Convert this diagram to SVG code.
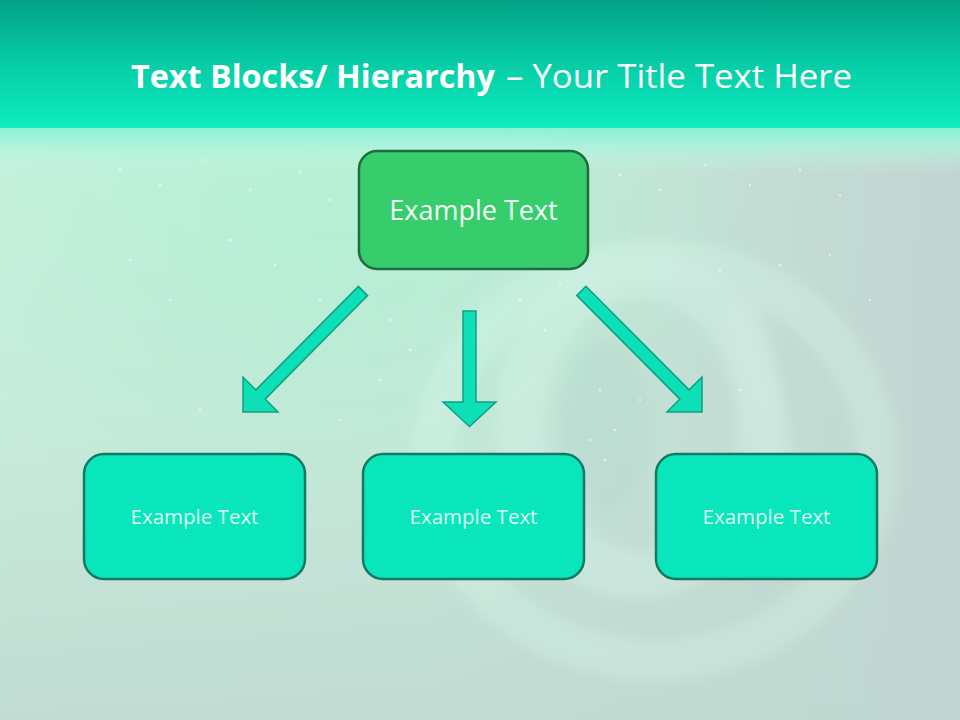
<svg xmlns="http://www.w3.org/2000/svg" width="960" height="720" viewBox="0 0 960 720">
  <defs>
    <linearGradient id="bgH" x1="0" y1="0" x2="1" y2="0">
      <stop offset="0" stop-color="#c9f4df"/>
      <stop offset="0.45" stop-color="#c8efdd"/>
      <stop offset="1" stop-color="#c2d4d1"/>
    </linearGradient>
    <linearGradient id="bgV" x1="0" y1="0" x2="0" y2="1">
      <stop offset="0" stop-color="#c0d6d0" stop-opacity="0"/>
      <stop offset="0.6" stop-color="#c0d6d0" stop-opacity="0.3"/>
      <stop offset="1" stop-color="#c0d6d0" stop-opacity="0.8"/>
    </linearGradient>
    <radialGradient id="glow" cx="0.35" cy="0.3" r="0.45">
      <stop offset="0" stop-color="#aef5d3" stop-opacity="0.8"/>
      <stop offset="1" stop-color="#aef5d3" stop-opacity="0"/>
    </radialGradient>
    <linearGradient id="header" x1="0" y1="0" x2="0" y2="1">
      <stop offset="0" stop-color="#03a386"/>
      <stop offset="0.55" stop-color="#07d0a9"/>
      <stop offset="1" stop-color="#0fecbf"/>
    </linearGradient>
    <linearGradient id="band" x1="0" y1="0" x2="0" y2="1">
      <stop offset="0" stop-color="#86f2d4"/>
      <stop offset="0.4" stop-color="#a9f4dc" stop-opacity="0.8"/>
      <stop offset="1" stop-color="#c6f5e2" stop-opacity="0"/>
    </linearGradient>
    <filter id="soft" x="-10%" y="-10%" width="120%" height="120%">
      <feGaussianBlur stdDeviation="6"/>
    </filter>
    <style>
      .title { font-family: "Open Sans", "Liberation Sans", sans-serif; font-size: 33px; fill: #ffffff; }
      .box-top { fill: #37cd6c; stroke: #1c6c3e; stroke-width: 2.5; }
      .box-bot { fill: #0ae6bc; stroke: #137a62; stroke-width: 2.5; }
      .lbl-top { font-family: "Open Sans", "Liberation Sans", sans-serif; font-size: 27px; fill: #f2fff6; text-anchor: middle; }
      .lbl-bot { font-family: "Open Sans", "Liberation Sans", sans-serif; font-size: 20.5px; fill: #dcfdf3; text-anchor: middle; }
      .arrow { fill: #0de0b6; stroke: #129f80; stroke-width: 1.5; stroke-linejoin: miter; }
      .spark { fill: #ffffff; }
    </style>
  </defs>

  <!-- background -->
  <rect x="0" y="0" width="960" height="720" fill="url(#bgH)"/>
  <rect x="0" y="0" width="960" height="720" fill="url(#glow)"/>
  <rect x="0" y="0" width="960" height="720" fill="url(#bgV)"/>

  <!-- faint @ decoration -->
  <g opacity="0.45" filter="url(#soft)">
    <ellipse cx="655" cy="460" rx="222" ry="200" fill="none" stroke="#dcfbef" stroke-width="42" opacity="0.6"/>
    <ellipse cx="640" cy="425" rx="120" ry="150" fill="none" stroke="#dffcf1" stroke-width="48" opacity="0.6"/>
    <ellipse cx="605" cy="425" rx="45" ry="85" fill="#a6cdc3" opacity="0.45"/>
    <path d="M 740 300 L 800 560" stroke="#dffcf1" stroke-width="40" opacity="0.5" fill="none"/>
  </g>

  <!-- sparkles -->
  <g class="spark" opacity="0.55">
    <circle cx="120" cy="170" r="1.5"/><circle cx="160" cy="185" r="1.2"/><circle cx="205" cy="160" r="1.5"/>
    <circle cx="250" cy="190" r="1.2"/><circle cx="300" cy="172" r="1.5"/><circle cx="330" cy="200" r="1.2"/>
    <circle cx="620" cy="175" r="1.5"/><circle cx="660" cy="190" r="1.2"/><circle cx="705" cy="165" r="1.5"/>
    <circle cx="750" cy="185" r="1.2"/><circle cx="800" cy="170" r="1.5"/><circle cx="840" cy="195" r="1.2"/>
    <circle cx="230" cy="240" r="1.5"/><circle cx="275" cy="265" r="1.2"/><circle cx="320" cy="300" r="1.5"/>
    <circle cx="390" cy="320" r="1.2"/><circle cx="410" cy="350" r="1.5"/><circle cx="300" cy="350" r="1.2"/>
    <circle cx="520" cy="300" r="1.5"/><circle cx="545" cy="330" r="1.2"/><circle cx="600" cy="390" r="1.5"/>
    <circle cx="615" cy="430" r="1.5"/><circle cx="590" cy="440" r="1.2"/><circle cx="605" cy="460" r="1.5"/>
    <circle cx="640" cy="400" r="1.2"/><circle cx="560" cy="285" r="1.2"/><circle cx="720" cy="270" r="1.2"/>
    <circle cx="780" cy="265" r="1.5"/><circle cx="830" cy="255" r="1.2"/><circle cx="870" cy="300" r="1.2"/>
    <circle cx="170" cy="300" r="1.2"/><circle cx="130" cy="260" r="1.5"/><circle cx="200" cy="410" r="1.2"/>
    <circle cx="340" cy="420" r="1.2"/><circle cx="380" cy="380" r="1.5"/><circle cx="740" cy="390" r="1.2"/>
  </g>

  <!-- header -->
  <rect x="0" y="0" width="960" height="128" fill="url(#header)"/>
  <rect x="0" y="128" width="960" height="45" fill="url(#band)"/>

  <!-- title -->
  <text class="title" x="131" y="88" font-weight="bold" textLength="364" lengthAdjust="spacingAndGlyphs">Text Blocks/ Hierarchy</text>
  <text class="title" x="506" y="88" textLength="346" lengthAdjust="spacingAndGlyphs">– Your Title Text Here</text>

  <!-- connectors -->
  <g id="connectors">
    <polygon class="arrow" points="358.4,286.4 367.6,295.6 265.1,399.1 278,412 243,412 243,377 255.9,389.9"/>
    <polygon class="arrow" points="463,311 476,311 476,402 496,402 469.5,426.5 443,402 463,402"/>
    <polygon class="arrow" points="585.9,286.2 689.1,389.9 702,377 702,412 667,412 679.9,399.1 576.7,295.4"/>
  </g>

  <!-- nodes -->
  <g id="node-top">
    <rect class="box-top" x="359" y="151" width="229" height="118" rx="18"/>
    <text class="lbl-top" x="473.5" y="220">Example Text</text>
  </g>
  <g id="node-left">
    <rect class="box-bot" x="84" y="454" width="221" height="125" rx="20"/>
    <text class="lbl-bot" x="194.5" y="524">Example Text</text>
  </g>
  <g id="node-middle">
    <rect class="box-bot" x="363" y="454" width="221" height="125" rx="20"/>
    <text class="lbl-bot" x="473.5" y="524">Example Text</text>
  </g>
  <g id="node-right">
    <rect class="box-bot" x="656" y="454" width="221" height="125" rx="20"/>
    <text class="lbl-bot" x="766.5" y="524">Example Text</text>
  </g>
</svg>
